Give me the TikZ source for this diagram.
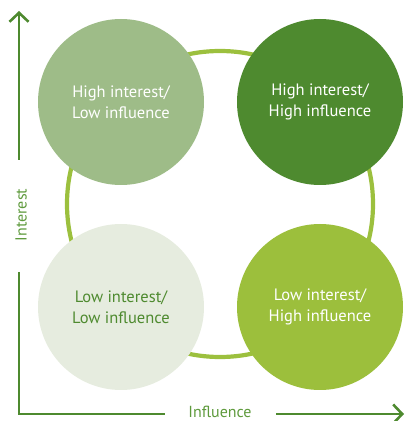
\documentclass[tikz,border=0pt]{standalone}
\usepackage{fontspec}
\setmainfont{PT Sans}
\usetikzlibrary{arrows.meta}
\definecolor{ringgreen}{HTML}{9CC03E}
\definecolor{darkgreen}{HTML}{4E8A2F}
\definecolor{sagegreen}{HTML}{9EBC88}
\definecolor{palegreen}{HTML}{E6ECDF}
\definecolor{limegreen}{HTML}{9CBF3C}
\definecolor{axisgreen}{HTML}{4E8A2F}
\definecolor{labelgreen}{HTML}{5E9A3C}
\tikzset{
  quad/.style={circle, minimum size=166pt, inner sep=0pt, align=center, font=\fontsize{16.5}{21.5}\selectfont},
  axisline/.style={draw=axisgreen, line width=2.6pt},
  axislabel/.style={text=labelgreen, font=\fontsize{16}{18}\selectfont, inner sep=0pt},
}
\begin{document}
\begin{tikzpicture}[x=1pt,y=1pt]
\useasboundingbox (0,0) rectangle (405,421);
% ring
\node[circle, draw=ringgreen, line width=4.2pt, minimum size=306pt, inner sep=0pt] (ring) at (220,217) {};
% quadrants
\node[quad, fill=sagegreen, text=white] (hl) at (121,319) {High interest/\\Low influence};
\node[quad, fill=darkgreen, text=white] (hh) at (320,319) {High interest/\\High influence};
\node[quad, fill=palegreen, text=darkgreen] (ll) at (121,114) {Low interest/\\Low influence};
\node[quad, fill=limegreen, text=white] (lh) at (320,114) {Low interest/\\High influence};
% axes
\coordinate (origin) at (19,7);
\coordinate (ytop) at (19,410);
\coordinate (xend) at (404,7);
\node[axislabel, rotate=90] (ylab) at (21,206) {Interest};
\node[axislabel] (xlab) at (220,9) {Influence};
\coordinate (ygapb) at (19,149);
\coordinate (ygapt) at (19,261);
\coordinate (xgapl) at (165,7);
\coordinate (xgapr) at (276,7);
\draw[axisline, line cap=butt] (ygapb) -- (origin) -- (xgapl);
\draw[axisline, -{Straight Barb[length=9pt,width=19pt,line width=2.6pt]}] (ygapt) -- (ytop);
\draw[axisline, -{Straight Barb[length=9pt,width=19pt,line width=2.6pt]}] (xgapr) -- (xend);
\end{tikzpicture}
\end{document}
